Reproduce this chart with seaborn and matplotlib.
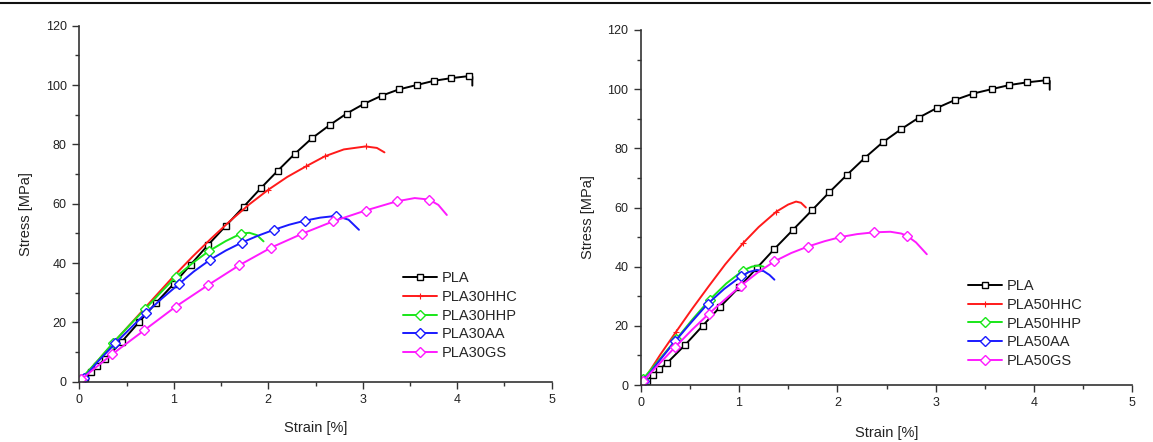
import numpy as np
import pandas as pd
import matplotlib
matplotlib.use("Agg")
import matplotlib.pyplot as plt
import seaborn as sns
from matplotlib.lines import Line2D
from matplotlib.ticker import MultipleLocator

# ---------------- data ----------------
pla_strain = [0.02, 0.06, 0.125, 0.19, 0.27, 0.45, 0.63, 0.81, 1.0, 1.18, 1.36, 1.55, 1.74, 1.92,
              2.10, 2.28, 2.46, 2.65, 2.83, 3.01, 3.20, 3.38, 3.57, 3.75, 3.93, 4.12, 4.16, 4.16]
pla_stress = [0, 1.3, 3.4, 5.3, 7.5, 13.5, 20.0, 26.5, 33.0, 39.5, 46.0, 52.5, 59.0, 65.2,
              71.1, 76.8, 82.0, 86.5, 90.4, 93.6, 96.4, 98.5, 100.0, 101.4, 102.3, 103.0, 102.8, 99.8]

hhc30_strain = [0, 0.2, 0.4, 0.6, 0.8, 1.0, 1.2, 1.4, 1.6, 1.8, 2.0, 2.2, 2.4, 2.6, 2.8, 3.03, 3.15, 3.23]
hhc30_stress = [0, 7.2, 14.5, 21.5, 28.6, 35.6, 42.2, 48.4, 54.3, 59.8, 64.7, 69.0, 72.6, 76.0, 78.3, 79.3, 78.8, 77.3]

hhp30_strain = [0, 0.02, 0.2, 0.36, 0.53, 0.70, 0.86, 1.02, 1.2, 1.37, 1.55, 1.71, 1.8, 1.88, 1.95]
hhp30_stress = [0, 1.0, 7.3, 13.2, 19.0, 24.6, 30.0, 35.3, 40.0, 44.0, 47.4, 49.9, 50.2, 49.4, 47.3]

aa30_strain = [0, 0.045, 0.2, 0.38, 0.55, 0.71, 0.88, 1.05, 1.21, 1.38, 1.55, 1.72, 1.89, 2.06,
               2.22, 2.39, 2.55, 2.72, 2.85, 2.96]
aa30_stress = [0, 1.2, 6.9, 12.9, 18.3, 23.3, 28.2, 32.8, 37.1, 41.0, 44.2, 46.9, 49.2, 51.2,
               52.9, 54.3, 55.3, 55.9, 54.6, 51.2]

gs30_strain = [0, 0.02, 0.35, 0.69, 1.02, 1.36, 1.69, 2.03, 2.36, 2.69, 3.03, 3.36, 3.55, 3.70, 3.80, 3.89]
gs30_stress = [0, 0.8, 9.3, 17.4, 25.3, 32.5, 39.2, 45.2, 49.9, 54.1, 57.7, 60.8, 61.9, 61.4, 59.6, 56.2]

hhc50_strain = [0, 0.2, 0.36, 0.52, 0.69, 0.86, 1.04, 1.2, 1.38, 1.5, 1.58, 1.63, 1.68]
hhc50_stress = [0, 10.3, 18.0, 25.6, 33.3, 40.8, 47.9, 53.4, 58.6, 61.0, 62.0, 61.6, 60.0]

hhp50_strain = [0, 0.02, 0.19, 0.36, 0.53, 0.70, 0.87, 1.04, 1.13, 1.2, 1.25]
hhp50_stress = [0, 1.9, 8.6, 15.4, 22.3, 28.8, 34.3, 38.7, 40.0, 40.4, 40.0]

aa50_strain = [0, 0.03, 0.19, 0.35, 0.52, 0.68, 0.85, 1.02, 1.1, 1.18, 1.25, 1.31, 1.36]
aa50_stress = [0, 1.3, 8.2, 14.8, 21.4, 27.4, 32.5, 36.7, 38.2, 38.9, 38.5, 37.2, 35.6]

gs50_strain = [0, 0.02, 0.19, 0.35, 0.52, 0.69, 0.86, 1.02, 1.19, 1.36, 1.53, 1.70, 1.87, 2.03,
               2.2, 2.37, 2.54, 2.65, 2.71, 2.8, 2.91]
gs50_stress = [0, 1.2, 7.2, 12.8, 18.6, 24.0, 29.0, 33.6, 38.0, 41.8, 44.6, 46.8, 48.6, 50.0,
               51.0, 51.6, 51.8, 51.2, 50.4, 48.2, 44.2]

labels_left = ["PLA", "PLA30HHC", "PLA30HHP", "PLA30AA", "PLA30GS"]
labels_right = ["PLA", "PLA50HHC", "PLA50HHP", "PLA50AA", "PLA50GS"]
x_ticks = [0, 1, 2, 3, 4, 5]
y_ticks = [0, 20, 40, 60, 80, 100, 120]

# ---------------- styling ----------------
sns.set_theme(style="ticks")
plt.rcParams["font.family"] = ["Liberation Sans", "DejaVu Sans"]
plt.rcParams["axes.edgecolor"] = "#333333"

colors = ["#000000", "#ff1a1a", "#19e619", "#1a1aff", "#ff1aff"]
markers = ["s", "+", "D", "D", "D"]
msizes = [5, 5, 5, 5, 5]
medge = [1.0, 0.8, 1.0, 1.0, 1.0]

fig = plt.figure(figsize=(11.53, 4.42), dpi=100)
W, H = 1153, 442
ax1 = fig.add_axes([79.3 / W, 1 - 381.7 / H, 472.4 / W, (381.7 - 25.7) / H])
ax2 = fig.add_axes([640.7 / W, 1 - 385.0 / H, 491.6 / W, (385.0 - 30.0) / H])

left_series = [
    (pla_strain, pla_stress, list(range(1, 26))),
    (hhc30_strain, hhc30_stress, [10, 12, 13, 15]),
    (hhp30_strain, hhp30_stress, [1, 3, 5, 7, 9, 11]),
    (aa30_strain, aa30_stress, [1, 3, 5, 7, 9, 11, 13, 15, 17]),
    (gs30_strain, gs30_stress, list(range(1, 12)) + [13]),
]
right_series = [
    (pla_strain, pla_stress, list(range(1, 26))),
    (hhc50_strain, hhc50_stress, [2, 6, 8]),
    (hhp50_strain, hhp50_stress, [1, 3, 5, 7]),
    (aa50_strain, aa50_stress, [1, 3, 5, 7]),
    (gs50_strain, gs50_stress, [1, 3, 5, 7, 9, 11, 13, 15, 18]),
]


def draw(ax, series, labels, leg_anchor):
    for (xs, ys, mk), lab, c, m, ms, me in zip(series, labels, colors, markers, msizes, medge):
        df = pd.DataFrame({"strain": xs, "stress": ys})
        sns.lineplot(data=df, x="strain", y="stress", ax=ax, sort=False, estimator=None,
                     color=c, lw=1.4, marker=m, markersize=ms, markevery=mk,
                     markerfacecolor="white" if m != "+" else c, markeredgecolor=c,
                     markeredgewidth=me, legend=False)
    ax.set_xlim(0, 5)
    ax.set_ylim(0, 120)
    ax.set_xticks(x_ticks)
    ax.set_yticks(y_ticks)
    ax.xaxis.set_minor_locator(MultipleLocator(0.5))
    ax.yaxis.set_minor_locator(MultipleLocator(10))
    ax.tick_params(which="major", direction="out", length=5, width=1.0, color="#333333",
                   labelsize=9, pad=4, labelcolor="#222222")
    ax.tick_params(which="minor", direction="out", length=3, width=1.0, color="#333333")
    for s in ["top", "right"]:
        ax.spines[s].set_visible(False)
    for s in ["left", "bottom"]:
        ax.spines[s].set_linewidth(1.2)
    ax.set_xlabel("Strain [%]", fontsize=10.5, color="#222222")
    ax.set_ylabel("Stress [MPa]", fontsize=10.5, color="#222222")
    handles = [Line2D([], [], color=c, lw=1.4, marker=m, markersize=ms,
                      markerfacecolor="white" if m != "+" else c, markeredgecolor=c,
                      markeredgewidth=me)
               for c, m, ms, me in zip(colors, markers, msizes, medge)]
    ax.legend(handles, labels, loc="upper left", bbox_to_anchor=leg_anchor, frameon=False,
              borderpad=0, borderaxespad=0, handlelength=2.35, handletextpad=0.3,
              labelspacing=0.32, fontsize=10.5, numpoints=1)


draw(ax1, left_series, labels_left, (0.685, 0.310))
draw(ax2, right_series, labels_right, (0.666, 0.298))
ax1.xaxis.set_label_coords(0.5, -0.11)
ax1.yaxis.set_label_coords(-0.098, 0.47)
ax2.xaxis.set_label_coords(0.5, -0.115)
ax2.yaxis.set_label_coords(-0.093, 0.473)

# thin rule across the top of the figure
fig.add_artist(Line2D([0, 1150 / W], [1 - 3.3 / H, 1 - 3.3 / H], transform=fig.transFigure,
                      color="#111111", lw=1.5))

fig.savefig("out.png", dpi=100)
